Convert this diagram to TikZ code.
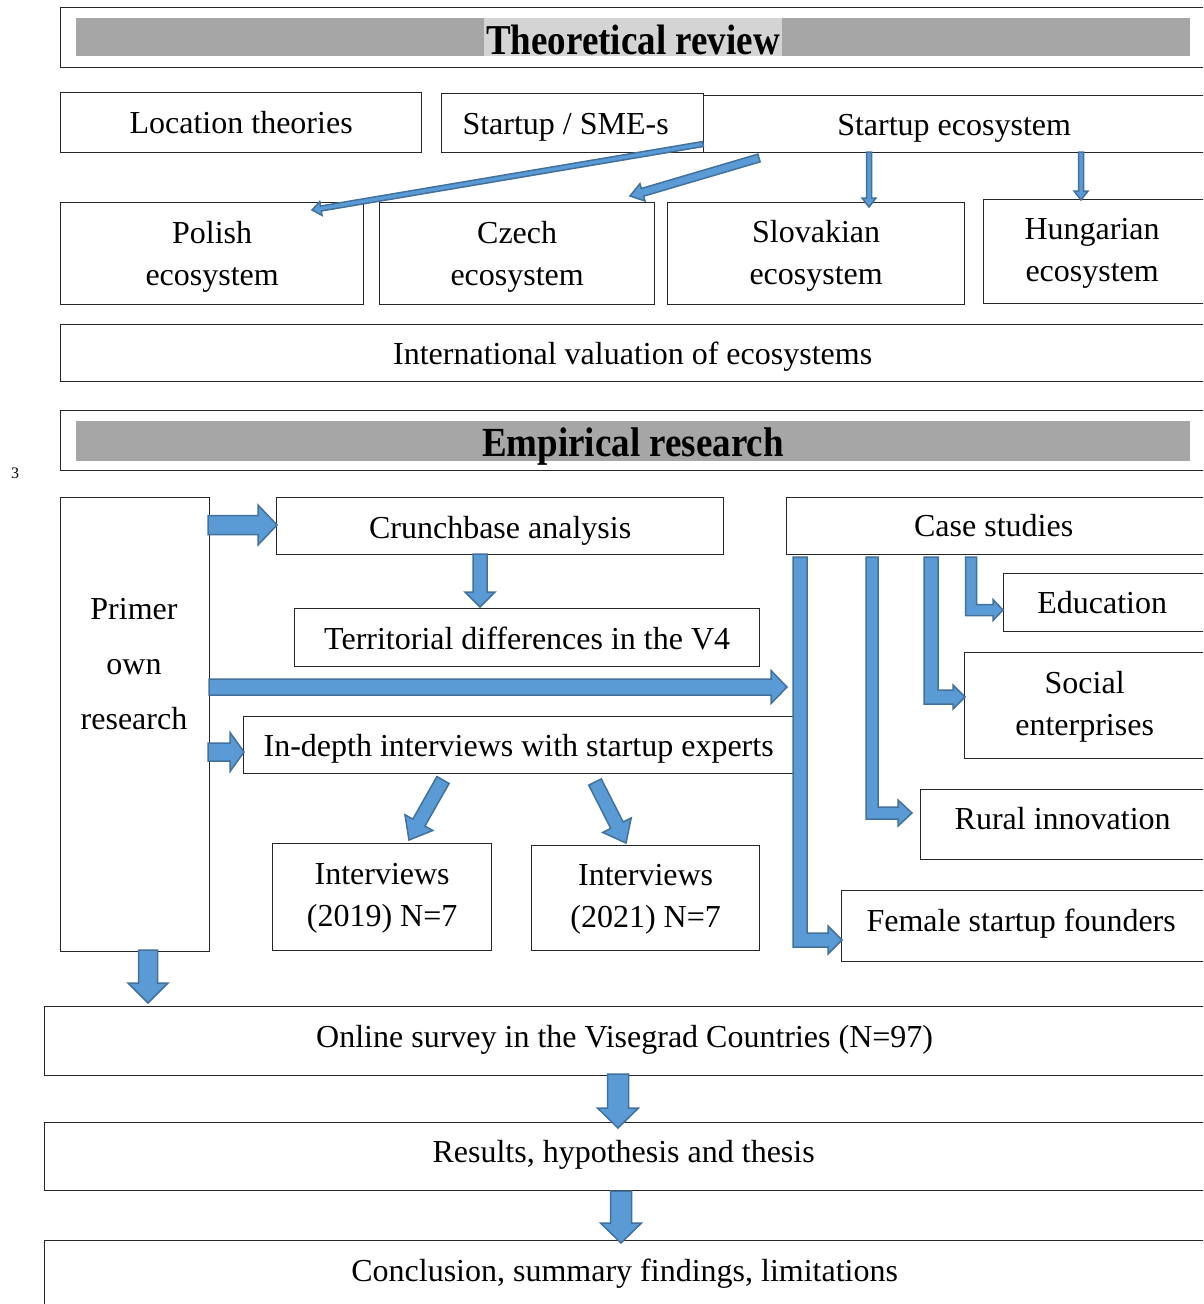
\documentclass[tikz,border=0pt]{standalone}
\usepackage{fontspec}
\setmainfont{Liberation Serif}
\usetikzlibrary{calc}
\definecolor{afill}{HTML}{5B9BD5}
\definecolor{aedge}{HTML}{41719C}
\definecolor{band}{HTML}{A6A6A6}
\definecolor{hl}{HTML}{D4D4D4}
\tikzset{
 box/.style={draw=black!85, line width=1.3pt, inner sep=0pt, anchor=north west},
 txt/.style={inner sep=0pt, font=\fontsize{32}{42}\selectfont, align=center},
 ttl/.style={inner sep=0pt, anchor=base, font=\bfseries\fontsize{37}{40}\selectfont},
 blockarrow/.style={draw=aedge, fill=afill, line width=1.5pt, line join=miter},
}
% text of a box: #1 box name, #2 shift from its centre, #3 text
\newcommand\boxtext[3]{\node[txt] (#1-t) at ($(#1.center)+(#2)$) {#3};}
% #1 start, #2 tip, #3 shaft half width, #4 head half width, #5 head length
\newcommand\barrow[5]{%
  \coordinate (ba-a) at #1;
  \coordinate (ba-b) at #2;
  \coordinate (ba-c) at ($(ba-b)!#5pt!(ba-a)$);
  \draw[blockarrow] ($(ba-a)!#3pt!90:(ba-b)$) -- ($(ba-c)!#3pt!90:(ba-b)$) -- ($(ba-c)!#4pt!90:(ba-b)$) -- (ba-b) -- ($(ba-c)!#4pt!-90:(ba-b)$) -- ($(ba-c)!#3pt!-90:(ba-b)$) -- ($(ba-a)!#3pt!-90:(ba-b)$) -- cycle;
}
% elbow arrow: #1 shaft x, #2 top y, #3 horizontal y, #4 tip x, #5 half width, #6 head half width, #7 head length
\newcommand\elbow[7]{%
  \draw[blockarrow] ({#1-#5},#2) -- ({#1-#5},{#3+#5}) -- ({#4-#7},{#3+#5}) -- ({#4-#7},{#3+#6}) -- (#4,#3) -- ({#4-#7},{#3-#6}) -- ({#4-#7},{#3-#5}) -- ({#1+#5},{#3-#5}) -- ({#1+#5},#2) -- cycle;
}
\begin{document}
\begin{tikzpicture}[x=1pt,y=-1pt]
\useasboundingbox (0,0) rectangle (1203,1304);
\clip (0,0) rectangle (1203,1304);

% Theoretical review title
\fill[band] (76,18) rectangle (1190,56);
\fill[hl] (484,18) rectangle (782,56);
\node[box, minimum width=1150, minimum height=60] (tbox) at (60,7) {};
\node[ttl] (ttext) at (633,54) {\scalebox{1}[1.15]{Theoretical review}};

\node[box, minimum width=361, minimum height=60] (loc) at (60,92) {};
\node[box, minimum width=262, minimum height=59] (sme) at (441,93) {};
\node[box, minimum width=505, minimum height=57] (eco) at (703,95) {};
\boxtext{loc}{0,0}{Location theories}
\boxtext{sme}{-7,4}{Startup / SME-s}
\boxtext{eco}{-2,4}{Startup ecosystem}

\node[box, minimum width=303, minimum height=102] (pol) at (60,202) {};
\node[box, minimum width=275, minimum height=102] (cze) at (379,202) {};
\node[box, minimum width=297, minimum height=102] (slo) at (667,202) {};
\node[box, minimum width=225, minimum height=104] (hun) at (983,199) {};
\boxtext{pol}{0,3}{Polish\\ecosystem}
\boxtext{cze}{0,3}{Czech\\ecosystem}
\boxtext{slo}{0,2.5}{Slovakian\\ecosystem}
\boxtext{hun}{-4,2}{Hungarian\\ecosystem}

\node[box, minimum width=1148, minimum height=57] (intl) at (60,324) {};
\boxtext{intl}{-2,4}{International valuation of ecosystems}

% Empirical research title
\fill[band] (76,421) rectangle (1190,461);
\node[box, minimum width=1150, minimum height=60] (ebox) at (60,410) {};
\node[ttl] (etext) at (633,456) {\scalebox{1}[1.12]{Empirical research}};

\node[inner sep=0pt, font=\fontsize{16}{18}\selectfont] (pnum) at (15,473) {3};

\node[box, minimum width=149, minimum height=454] (primer) at (60,497) {};
\node[txt] (primer-t) at (134,664) {Primer\\[13pt]own\\[13pt]research};
\node[box, minimum width=447, minimum height=57] (crunch) at (276,497) {};
\node[box, minimum width=422, minimum height=57] (cases) at (786,497) {};
\node[box, minimum width=465, minimum height=58] (terr) at (294,608) {};
\node[box, minimum width=552, minimum height=57] (indepth) at (243,716) {};
\node[box, minimum width=219, minimum height=107] (i19) at (272,843) {};
\node[box, minimum width=228, minimum height=105] (i21) at (531,845) {};
\node[box, minimum width=205, minimum height=58] (edu) at (1003,573) {};
\node[box, minimum width=244, minimum height=106] (soc) at (964,652) {};
\node[box, minimum width=288, minimum height=70] (rur) at (920,789) {};
\node[box, minimum width=367, minimum height=71] (fem) at (841,890) {};
\boxtext{crunch}{0,5}{Crunchbase analysis}
\boxtext{cases}{-4,-1}{Case studies}
\boxtext{terr}{0,1}{Territorial differences in the V4}
\boxtext{indepth}{-1,4}{In-depth interviews with startup experts}
\boxtext{i19}{0,1.5}{Interviews\\(2019) N=7}
\boxtext{i21}{0,1.5}{Interviews\\(2021) N=7}
\boxtext{edu}{-4,0}{Education}
\boxtext{soc}{-2,1}{Social\\enterprises}
\boxtext{rur}{-2,-6}{Rural innovation}
\boxtext{fem}{-4,-3}{Female startup founders}

\node[box, minimum width=1164, minimum height=69] (onl) at (44,1006) {};
\node[box, minimum width=1164, minimum height=68] (res) at (44,1122) {};
\node[box, minimum width=1164, minimum height=70] (con) at (44,1240) {};
\boxtext{onl}{-2,-1}{Online survey in the Visegrad Countries (N=97)}
\boxtext{res}{-3,-2}{Results, hypothesis and thesis}
\boxtext{con}{-2,-2}{Conclusion, summary findings, limitations}

% arrows, theoretical part
\barrow{(703,144)}{(312,210)}{2.5}{7}{9}
\barrow{(759,158)}{(630,196)}{4}{9}{13}
\barrow{(869,152)}{(869,207)}{2.5}{7}{9}
\barrow{(1081,152)}{(1081,200)}{2.5}{7}{9}

% arrows, empirical part
\barrow{(208,525)}{(277,525)}{9.5}{20}{19}
\barrow{(480,554)}{(480,607)}{7}{15}{15}
\barrow{(209,687)}{(787,687)}{8}{16.5}{16}
\barrow{(208,752)}{(244,752)}{9}{19.5}{14}
\barrow{(443,780)}{(409,840)}{7}{16}{20}
\barrow{(595,782)}{(626,843)}{7}{16}{20}
\barrow{(148,950)}{(148,1003)}{9.5}{20}{20}
\barrow{(618,1074)}{(618,1128)}{10.5}{20.5}{20}
\barrow{(621,1191)}{(621,1243)}{10.5}{20.5}{20}

% case study elbows
\elbow{800}{557}{940}{842}{7}{14}{14}
\elbow{872}{557}{813}{912}{6}{13}{14}
\elbow{931}{557}{697}{965}{7}{12}{12}
\elbow{971}{557}{610}{1003}{5.5}{10.5}{10}
\end{tikzpicture}
\end{document}
